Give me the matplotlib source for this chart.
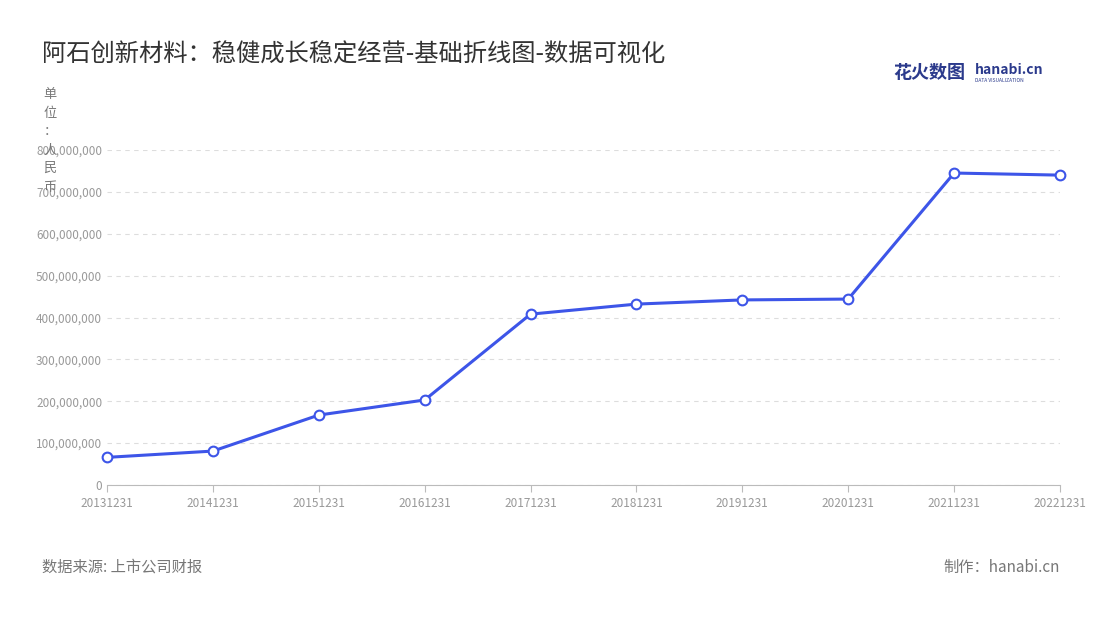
import matplotlib.pyplot as plt

plt.rcParams['font.family'] = ['Noto Sans CJK SC', 'DejaVu Sans']

dates = ['20131231', '20141231', '20151231', '20161231', '20171231',
         '20181231', '20191231', '20201231', '20211231', '20221231']
revenue = [66e6, 81e6, 167e6, 203e6, 408e6, 432e6, 442e6, 444e6, 745e6, 740e6]
yticks = [0, 100e6, 200e6, 300e6, 400e6, 500e6, 600e6, 700e6, 800e6]

fig = plt.figure(figsize=(11, 6.2), dpi=100)
ax = fig.add_axes([107 / 1100, 1 - 485 / 620, (1060 - 107) / 1100, (485 - 150) / 620])

x = list(range(len(dates)))
ax.plot(x, revenue, color='#3d55e8', lw=2.2, marker='o', ms=7,
        mfc='white', mec='#3d55e8', mew=1.5, zorder=3, clip_on=False)

ax.set_xlim(0, len(dates) - 1)
ax.set_ylim(0, 800e6)
ax.set_xticks(x)
ax.set_xticklabels(dates)
ax.set_yticks(yticks)
ax.set_yticklabels([f'{int(v):,}' for v in yticks])
ax.tick_params(colors='#999999', labelsize=8.5, length=0)
ax.tick_params(axis='x', length=5, color='#bbbbbb')
ax.grid(axis='y', ls=(0, (4, 4)), color='#dddddd', lw=0.8)
for s in ['top', 'right', 'left']:
    ax.spines[s].set_visible(False)
ax.spines['bottom'].set_color('#bbbbbb')

fig.text(42 / 1100, 1 - 55 / 620, '阿石创新材料：稳健成长稳定经营-基础折线图-数据可视化',
         fontsize=17.5, color='#333333', va='center')
fig.text(50 / 1100, 1 - 88 / 620, '单\n位\n：\n人\n民\n币', fontsize=9.5,
         color='#777777', ha='center', va='top', linespacing=1.55)
fig.text(893 / 1100, 1 - 72 / 620, '花火数图', fontsize=13, color='#2b3a8c',
         fontweight='bold', va='center')
fig.text(975 / 1100, 1 - 70 / 620, 'hanabi.cn', fontsize=10, color='#2b3a8c',
         fontweight='bold', va='center')
fig.text(975 / 1100, 1 - 80 / 620, 'DATA VISUALIZATION', fontsize=3.5, color='#2b3a8c',
         va='center')
fig.text(42 / 1100, 1 - 567 / 620, '数据来源: 上市公司财报', fontsize=11,
         color='#777777', va='center')
fig.text(1060 / 1100, 1 - 567 / 620, '制作：hanabi.cn', fontsize=11,
         color='#777777', va='center', ha='right')

fig.savefig('out.png')
